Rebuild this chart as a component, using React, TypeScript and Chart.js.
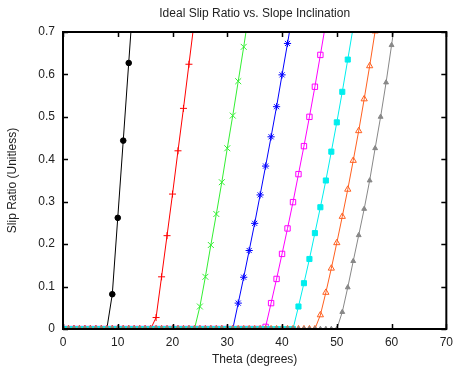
import { useEffect, useRef } from 'react';
import { Chart, registerables } from 'chart.js';

Chart.register(...registerables);

// Theta (degrees) sample positions
const thetaDeg = [
  0, 1, 2, 3, 4, 5, 6, 7, 8, 9, 10, 11, 12, 13, 14, 15, 16, 17, 18, 19,
  20, 21, 22, 23, 24, 25, 26, 27, 28, 29, 30, 31, 32, 33, 34, 35, 36, 37, 38, 39,
  40, 41, 42, 43, 44, 45, 46, 47, 48, 49, 50, 51, 52, 53, 54, 55, 56, 57, 58, 59,
  60, 61,
];

const xTickValues = [0, 10, 20, 30, 40, 50, 60, 70];
const yTickValues = [0, 0.1, 0.2, 0.3, 0.4, 0.5, 0.6, 0.7];

// Slip ratio for each curve, indexed by theta (from 0)
const slipBlack = [
  0, 0, 0, 0, 0, 0, 0, 0, 0, 0.082, 0.262, 0.444, 0.627, 0.81,
];
const slipRed = [
  0, 0, 0, 0, 0, 0, 0, 0, 0, 0, 0, 0, 0, 0, 0, 0, 0,
  0.027, 0.123, 0.22, 0.318, 0.42, 0.52, 0.624, 0.728,
];
const slipGreen = [
  0, 0, 0, 0, 0, 0, 0, 0, 0, 0, 0, 0, 0, 0, 0, 0, 0, 0, 0, 0, 0, 0, 0, 0, 0,
  0.053, 0.123, 0.198, 0.271, 0.346, 0.426, 0.503, 0.584, 0.665, 0.75,
];
const slipBlue = [
  0, 0, 0, 0, 0, 0, 0, 0, 0, 0, 0, 0, 0, 0, 0, 0, 0, 0, 0, 0, 0, 0, 0, 0, 0,
  0, 0, 0, 0, 0, 0, 0,
  0.061, 0.122, 0.185, 0.249, 0.316, 0.384, 0.453, 0.524, 0.599, 0.673, 0.75,
];
const slipMagenta = [
  0, 0, 0, 0, 0, 0, 0, 0, 0, 0, 0, 0, 0, 0, 0, 0, 0, 0, 0, 0, 0, 0, 0, 0, 0,
  0, 0, 0, 0, 0, 0, 0, 0, 0, 0, 0, 0,
  0.005, 0.061, 0.118, 0.177, 0.237, 0.299, 0.365, 0.431, 0.5, 0.571, 0.646, 0.722,
];
const slipCyan = [
  0, 0, 0, 0, 0, 0, 0, 0, 0, 0, 0, 0, 0, 0, 0, 0, 0, 0, 0, 0, 0, 0, 0, 0, 0,
  0, 0, 0, 0, 0, 0, 0, 0, 0, 0, 0, 0, 0, 0, 0, 0, 0, 0,
  0.053, 0.108, 0.165, 0.226, 0.287, 0.35, 0.418, 0.487, 0.559, 0.635, 0.712,
];
const slipOrange = [
  0, 0, 0, 0, 0, 0, 0, 0, 0, 0, 0, 0, 0, 0, 0, 0, 0, 0, 0, 0, 0, 0, 0, 0, 0,
  0, 0, 0, 0, 0, 0, 0, 0, 0, 0, 0, 0, 0, 0, 0, 0, 0, 0, 0, 0, 0, 0,
  0.033, 0.086, 0.143, 0.203, 0.265, 0.329, 0.397, 0.467, 0.542, 0.62, 0.702, 0.785,
];
const slipGray = [
  0, 0, 0, 0, 0, 0, 0, 0, 0, 0, 0, 0, 0, 0, 0, 0, 0, 0, 0, 0, 0, 0, 0, 0, 0,
  0, 0, 0, 0, 0, 0, 0, 0, 0, 0, 0, 0, 0, 0, 0, 0, 0, 0, 0, 0, 0, 0, 0, 0, 0, 0,
  0.04, 0.098, 0.16, 0.221, 0.283, 0.35, 0.426, 0.5, 0.581, 0.669, 0.76,
];

const FONT = 'Liberation Sans, Arial, Helvetica, sans-serif';
const TEXT = '#222';

type Spec = {
  values: number[];
  color: string;
  style: string;
  radius: number;
  filled: boolean;
};

const specs: Spec[] = [
  { values: slipBlack, color: '#000000', style: 'circle', radius: 2.8, filled: true },
  { values: slipRed, color: '#ff0000', style: 'cross', radius: 3.5, filled: false },
  { values: slipGreen, color: '#33ee33', style: 'crossRot', radius: 4.2, filled: false },
  { values: slipBlue, color: '#0000ff', style: 'star', radius: 3.6, filled: false },
  { values: slipMagenta, color: '#ff00ff', style: 'rect', radius: 3.8, filled: false },
  { values: slipCyan, color: '#00eeee', style: 'rect', radius: 3.6, filled: true },
  { values: slipOrange, color: '#ff6020', style: 'triangle', radius: 3.6, filled: false },
  { values: slipGray, color: '#888888', style: 'triangle', radius: 2.8, filled: true },
];

const framePlugin = {
  id: 'gnuFrame',
  afterDatasetsDraw(chart: any) {
    const { ctx, chartArea: a, scales } = chart;
    const x = scales.x;
    const y = scales.y;
    ctx.save();
    ctx.strokeStyle = '#000';
    ctx.lineWidth = 1.5;
    ctx.beginPath();
    const tl = 5;
    xTickValues.forEach((v) => {
      const px = Math.round(x.getPixelForValue(v)) + 0.5;
      ctx.moveTo(px, a.bottom);
      ctx.lineTo(px, a.bottom - tl);
      ctx.moveTo(px, a.top);
      ctx.lineTo(px, a.top + tl);
    });
    yTickValues.forEach((v) => {
      const py = Math.round(y.getPixelForValue(v)) + 0.5;
      ctx.moveTo(a.left, py);
      ctx.lineTo(a.left + tl, py);
      ctx.moveTo(a.right, py);
      ctx.lineTo(a.right - tl, py);
    });
    ctx.stroke();
    ctx.lineWidth = 2;
    ctx.strokeRect(a.left, a.top, a.right - a.left, a.bottom - a.top);
    ctx.restore();
  },
};

export default function App() {
  const canvasRef = useRef<HTMLCanvasElement | null>(null);

  useEffect(() => {
    if (!canvasRef.current) return;
    const datasets = specs.map((s, i) => ({
      data: s.values.map((v, k) => ({ x: thetaDeg[k], y: v })),
      borderColor: s.color,
      borderWidth: 1,
      pointStyle: s.style,
      pointRadius: s.radius,
      pointBorderColor: s.color,
      pointBackgroundColor: s.filled ? s.color : 'rgba(0,0,0,0)',
      pointBorderWidth: 1,
      fill: false,
      tension: 0,
      clip: 0,
      order: specs.length - i,
    }));

    const chart = new Chart(canvasRef.current, {
      type: 'line',
      data: { datasets },
      plugins: [framePlugin],
      options: {
        animation: false,
        responsive: true,
        maintainAspectRatio: false,
        layout: { padding: { left: 0, right: 10, top: 0, bottom: 0 } },
        plugins: {
          legend: { display: false },
          tooltip: { enabled: false },
          title: {
            display: true,
            fullSize: false,
            text: 'Ideal Slip Ratio vs. Slope Inclination',
            color: TEXT,
            font: { family: FONT, size: 12, weight: 'normal' },
            padding: { top: 6, bottom: 11.6 },
          },
        },
        scales: {
          x: {
            type: 'linear',
            min: 0,
            max: 70,
            afterFit: (s: any) => {
              s.height = 43;
            },
            ticks: {
              stepSize: 10,
              color: TEXT,
              font: { family: FONT, size: 12 },
              padding: 6,
              maxRotation: 0,
            },
            grid: { display: false, drawTicks: false },
            border: { display: false },
            title: {
              display: true,
              text: 'Theta (degrees)',
              color: TEXT,
              font: { family: FONT, size: 12 },
              padding: { top: 0, bottom: 5 },
            },
          },
          y: {
            type: 'linear',
            min: 0,
            max: 0.7,
            afterFit: (s: any) => {
              s.width = 63;
            },
            ticks: {
              stepSize: 0.1,
              color: TEXT,
              font: { family: FONT, size: 12 },
              padding: 8,
              callback: (v: any) => String(Math.round(Number(v) * 10) / 10),
            },
            grid: { display: false, drawTicks: false },
            border: { display: false },
            title: {
              display: true,
              text: 'Slip Ratio (Unitless)',
              color: TEXT,
              font: { family: FONT, size: 12 },
              padding: { top: 5, bottom: 0 },
            },
          },
        },
      } as any,
    });
    return () => chart.destroy();
  }, []);

  return (
    <div
      style={{
        position: 'absolute',
        left: 0,
        top: 0,
        width: 459,
        height: 372,
        background: '#fff',
      }}
    >
      <canvas ref={canvasRef} />
    </div>
  );
}
